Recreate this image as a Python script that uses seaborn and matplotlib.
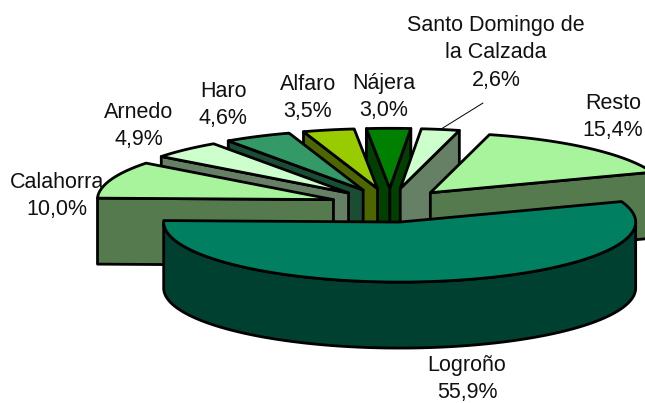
import numpy as np
import matplotlib
matplotlib.use("Agg")
import matplotlib.pyplot as plt
from matplotlib.colors import to_rgb
from matplotlib.patches import Polygon
import seaborn as sns

names = ["Logroño", "Calahorra", "Arnedo", "Haro", "Alfaro", "Nájera",
         "Santo Domingo de\nla Calzada", "Resto"]
shares = [55.9, 10.0, 4.9, 4.6, 3.5, 3.0, 2.6, 15.4]
pct_text = ["55,9%", "10,0%", "4,9%", "4,6%", "3,5%", "3,0%", "2,6%", "15,4%"]
top_colors = ["#008060", "#A8F49C", "#CCFFCC", "#339966", "#99CC00", "#008000", "#CCFFCC", "#A8F49C"]
label_pos = [(467, 379), (57, 196), (139, 126), (223, 105), (308, 98), (384, 97), (496, 53), (613, 117)]

# pie shape, in pixels of the picture
center = (390, 205.3)
rx, ry = 236, 60
depth = 66
explode_x, explode_y = 60, 17
start_angle = 20

sns.set_style("white")
plt.rcParams["font.family"] = ["Liberation Sans", "DejaVu Sans"]

fig, ax = plt.subplots(figsize=(6.45, 4.03), dpi=100)
ax.set_position([0, 0, 1, 1])
ax.set_xlim(0, 645)
ax.set_ylim(403, 0)
ax.axis("off")


def rim(apex, ang):
    rad = np.radians(ang)
    return np.column_stack([apex[0] + rx * np.cos(rad), apex[1] - ry * np.sin(rad)])


def draw_wall(pts, color):
    low = pts[::-1] + np.array([0, depth])
    ax.add_patch(Polygon(np.vstack([pts, low]), closed=True, fc=color, ec="black", lw=2.0, joinstyle="round"))


sweeps = np.array(shares) / sum(shares) * 360
hi = start_angle - np.concatenate([[0], np.cumsum(sweeps)[:-1]])
lo = hi - sweeps
mids = (hi + lo) / 2

# back slices first, the front one goes on top
order = sorted(range(len(shares)), key=lambda i: -np.sin(np.radians(mids[i])))

for i in order:
    top = top_colors[i]
    side = tuple(c * 0.5 for c in to_rgb(top))
    m = np.radians(mids[i])
    apex = (center[0] + explode_x * np.cos(m), center[1] - explode_y * np.sin(m))
    arc = np.linspace(lo[i], hi[i], 120)
    edge = rim(apex, arc)
    apex_pt = np.array([apex])

    # side walls that face the viewer
    if np.cos(np.radians(lo[i])) > 0:
        draw_wall(np.vstack([apex_pt, edge[:1]]), side)
    if np.cos(np.radians(hi[i])) < 0:
        draw_wall(np.vstack([apex_pt, edge[-1:]]), side)

    # outer wall, only the front half of the circle
    front = np.sin(np.radians(arc)) <= 0
    if front.any():
        draw_wall(edge[front], side)

    ax.add_patch(Polygon(np.vstack([apex_pt, edge]), closed=True, fc=top, ec="black", lw=2.0, joinstyle="round"))

for i, name in enumerate(names):
    ax.text(label_pos[i][0], label_pos[i][1], name + "\n" + pct_text[i], ha="center", va="center",
            fontsize=15.5, color="#111111", linespacing=1.42, multialignment="center")

# leader line for the small slice
i = names.index("Santo Domingo de\nla Calzada")
m = np.radians(mids[i])
apex = (center[0] + explode_x * np.cos(m), center[1] - explode_y * np.sin(m))
p = rim(apex, np.array([mids[i]]))[0]
ax.plot([p[0], label_pos[i][0] - 13], [p[1], 103], color="black", lw=0.7)

sns.despine(fig=fig, left=True, bottom=True)
plt.savefig("out.png", dpi=100)
plt.close()
